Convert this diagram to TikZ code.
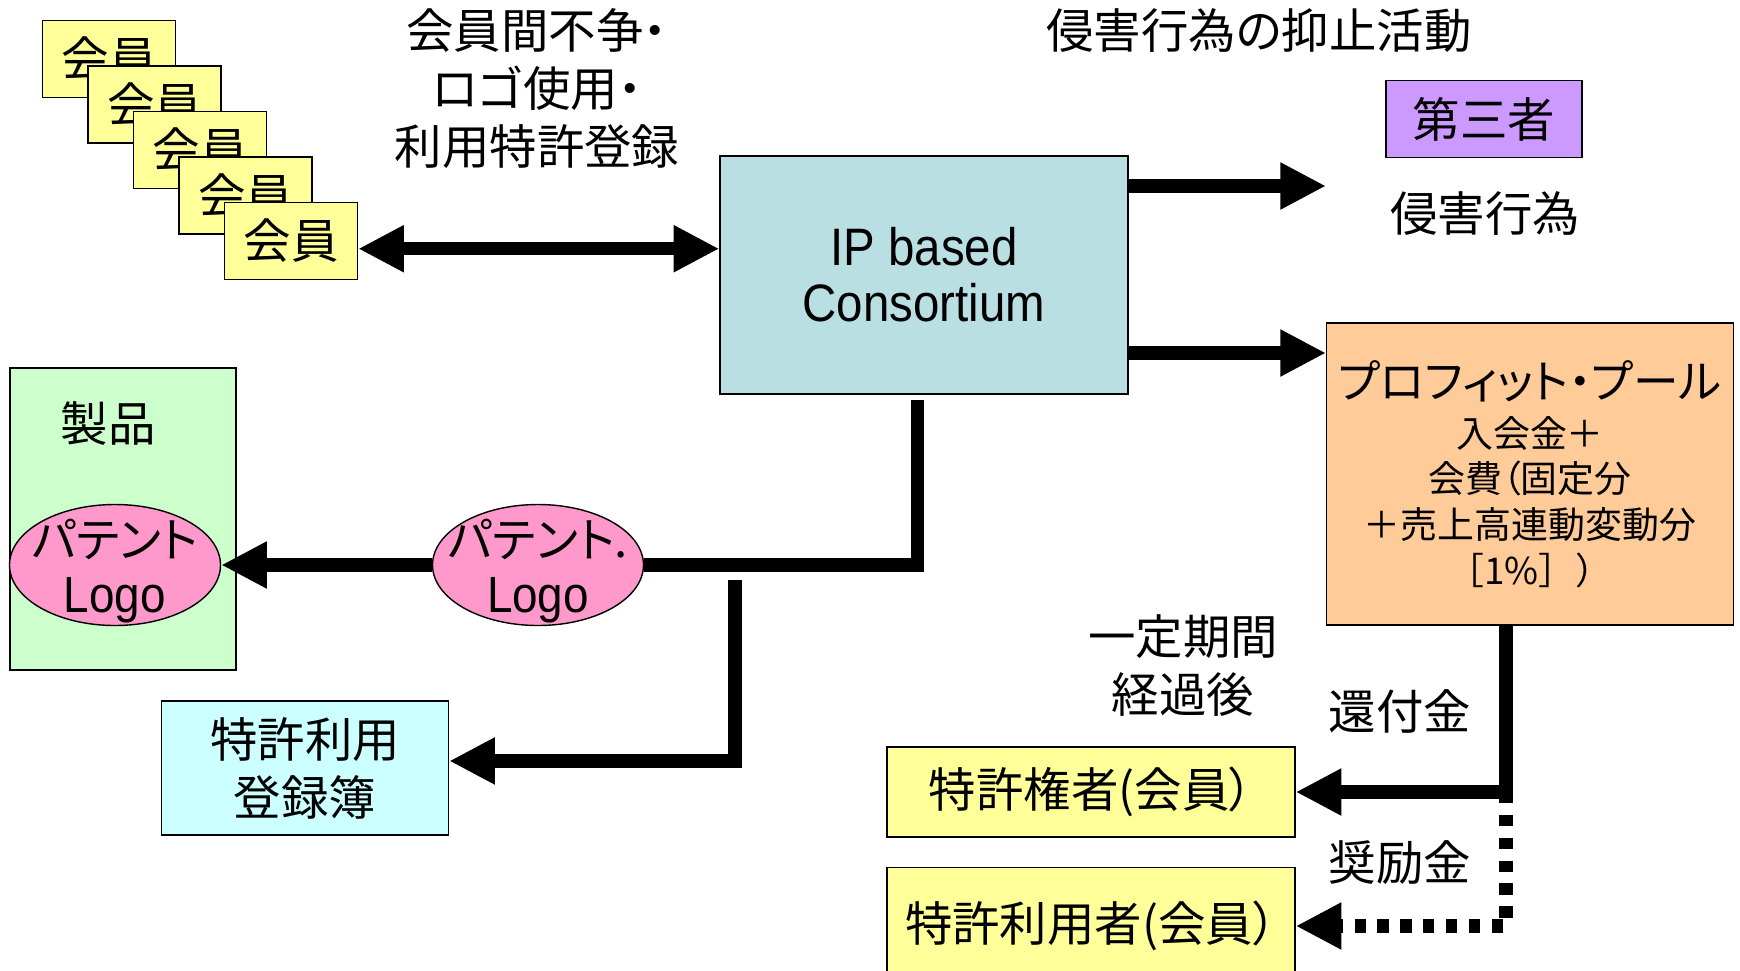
\documentclass[tikz,border=0pt]{standalone}
\usepackage{fontspec}
\setmainfont{Noto Sans CJK JP}[RawFeature=+palt]
\newfontfamily\latinfont{Liberation Sans}[FakeStretch=0.9]
\usetikzlibrary{arrows.meta,shapes.geometric}
\definecolor{memberyellow}{HTML}{FFFF99}
\definecolor{consblue}{HTML}{B9DFE3}
\definecolor{thirdpurple}{HTML}{CC99FF}
\definecolor{poolorange}{HTML}{FFCC99}
\definecolor{prodgreen}{HTML}{CCFFCC}
\definecolor{logopink}{HTML}{FF99CC}
\definecolor{regcyan}{HTML}{CCFFFF}
\newcommand\engtext[1]{{\latinfont\fontsize{29}{31}\selectfont #1}}

\begin{document}
\begin{tikzpicture}[x=0.02cm, y=-0.02cm, line join=miter,
		font=\fontsize{27}{33}\selectfont,
		every node/.append style={align=center},
		>={Triangle[length=26pt,width=25pt]},
		box/.style={draw, line width=0.8pt, inner sep=0pt},
		member/.style={box, fill=memberyellow, minimum width=133*\px, minimum height=77*\px},
		logo/.style={ellipse, draw, line width=0.8pt, fill=logopink, inner sep=0pt,
			minimum width=211*\px, minimum height=121*\px},
		logotext/.style={font=\fontsize{27}{31}\selectfont},
		flow/.style={line width=7.5pt},
		dotflow/.style={flow, dash pattern=on 6.5pt off 6.5pt}]
		\def\px{0.02cm}
		\useasboundingbox (0,0) rectangle (1740,970);
		% stack of members
		\foreach \i in {0,...,4}
		\node[member] (m\i) at ({109+45.5*\i},{59+45.5*\i}) {会員};
		\node (rules) at (537,89) {会員間不争・\\ロゴ使用・\\利用特許登録};
		\node (deter) at (1259,31) {侵害行為の抑止活動};
		% boxes
		\node[box, fill=consblue, minimum width=408*\px, minimum height=238*\px,
		font=\latinfont\fontsize{30}{32}\selectfont] (cons) at (924,275) {IP based\\Consortium};
		\node[box, fill=thirdpurple, minimum width=196*\px, minimum height=77*\px] (third) at (1484,119) {第三者};
		\node (harm) at (1485,214) {侵害行為};
		\node[box, fill=poolorange, minimum width=407*\px, minimum height=302*\px,
		font=\fontsize{21}{26}\selectfont] (pool) at (1530,474)
		{{\fontsize{26}{26}\selectfont プロフィット・プール}\\[2pt]入会金＋\\会費（固定分\\＋売上高連動変動分\\{\addfontfeature{RawFeature=-palt}［1\%］）}};
		\node[box, fill=prodgreen, minimum width=226*\px, minimum height=302*\px] (prod) at (123,519) {};
		\node (prodlbl) at (108,424) {製品};
		\node[logo] (logo1) at (115,565) {};
		\node[logotext] (logo1txt) at ([yshift=-3.5pt]logo1.center) {パテント\\\engtext{Logo}};
		\node[logo] (logo2) at (538,565) {};
		\node[logotext] (logo2txt) at ([yshift=-3.5pt]logo2.center) {パテント.\\\engtext{Logo}};
		\node[box, fill=regcyan, minimum width=287*\px, minimum height=134*\px] (reg) at (305,768) {特許利用\\登録簿};
		\node (after) at (1183,666) {一定期間\\経過後};
		\node[box, fill=memberyellow, minimum width=408*\px, minimum height=90*\px] (owner) at (1091,792) {特許権者(会員）};
		\node[box, fill=memberyellow, minimum width=408*\px, minimum height=117*\px] (user) at (1091,926) {特許利用者(会員）};
		\node (refund) at (1400,711) {還付金};
		\node (bonus) at (1400,863) {奨励金};
		\path (1326,186) coordinate (hit)
		(1326,353) coordinate (feed)
		(735,580) coordinate (split)
		(1506,625) coordinate (out);
		% arrows
		\draw[flow,<->] ([yshift=-4.4pt]m4.east) -- ([yshift=-4.4pt]m4.east -| cons.west);
		\draw[flow,->] (cons.east |- hit) -- (hit);
		\draw[flow,->] (cons.east |- feed) -- (feed);
		\draw[flow, shorten <=3pt] ([xshift=-3.8pt]cons.south) |- (logo2.east);
		\draw[flow,->] (logo2.west) -- (logo1.east);
		\draw[flow,->] (split) |- ([yshift=4pt]reg.east);
		\draw[dotflow,->] (owner.east -| out) |- (user.east);
		\draw[flow,->] (out) |- (owner.east);
\end{tikzpicture}
\end{document}
